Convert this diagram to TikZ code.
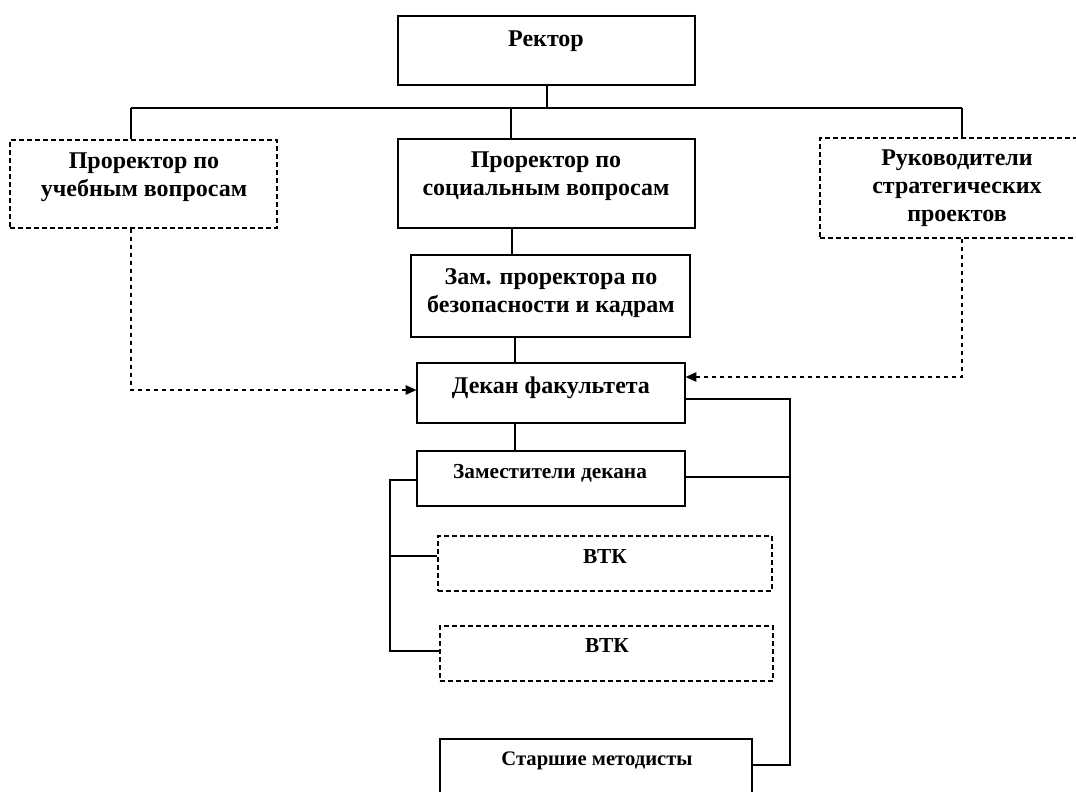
\documentclass[tikz,border=0pt]{standalone}
\usepackage{fontspec}
\setmainfont{Liberation Serif}
\usetikzlibrary{fit,arrows.meta}
\tikzset{
  box/.style={draw, line width=0.9pt, inner sep=0pt, rectangle},
  dbox/.style={box, dash pattern=on 3.5pt off 2.5pt},
  txt/.style={font=\bfseries\fontsize{18}{21}\selectfont, align=center, inner sep=0pt},
  stxt/.style={font=\bfseries\fontsize{15.5}{18}\selectfont, align=center, inner sep=0pt},
  conn/.style={line width=0.9pt},
  dconn/.style={line width=0.9pt, dash pattern=on 3.5pt off 2.5pt, -{Triangle[length=8pt,width=7pt]}},
}
\begin{document}
\begin{tikzpicture}[x=0.75pt,y=-0.75pt]
\useasboundingbox (0,0) rectangle (1076,792);
% boxes
\node[box, fit={(398,16) (695,85)}] (rector) {};
\node[dbox, fit={(10,140) (277,228)}] (prU) {};
\node[box, fit={(398,139) (695,228)}] (prS) {};
\node[dbox, fit={(820,138) (1095,238)}] (ruk) {};
\node[box, fit={(411,255) (690,337)}] (zam) {};
\node[box, fit={(417,363) (685,423)}] (dekan) {};
\node[box, fit={(417,451) (685,506)}] (zamdek) {};
\node[dbox, fit={(438,536) (772,591)}] (vtk1) {};
\node[dbox, fit={(440,626) (773,681)}] (vtk2) {};
\node[box, fit={(440,739) (752,810)}] (starsh) {};
% texts
\node[txt] (rector-t) at (546,41) {Ректор};
\node[txt] (prU-t) at (144,177) {Проректор по\\учебным вопросам};
\node[txt] (prS-t) at (546,176) {Проректор по\\социальным вопросам};
\node[txt] (ruk-t) at (957,188) {Руководители\\стратегических\\проектов};
\node[txt] (zam-t) at (551,293) {Зам. проректора по\\безопасности и кадрам};
\node[txt] (dekan-t) at (551,388) {Декан факультета};
\node[stxt, font=\bfseries\fontsize{16}{19}\selectfont] (zamdek-t) at (550,473) {Заместители декана};
\node[stxt, font=\bfseries\fontsize{16}{19}\selectfont] (vtk1-t) at (605,557) {ВТК};
\node[stxt, font=\bfseries\fontsize{16}{19}\selectfont] (vtk2-t) at (607,646) {ВТК};
\node[stxt] (starsh-t) at (597,761) {Старшие методисты};
% coordinates
\coordinate (busL) at (131,108);
\coordinate (busR) at (962,108);
\coordinate (busM) at (511,108);
\coordinate (busT) at (547,108);
\coordinate (leftD) at (131,390);
\coordinate (rightD) at (962,377);
\coordinate (rx) at (790,399);
\coordinate (lx) at (390,480);
% connectors
\draw[conn] (busT |- rector.south) -- (busT);
\draw[conn] (busL) -- (busR);
\draw[conn] (busL) -- (busL |- prU.north);
\draw[conn] (busM) -- (busM |- prS.north);
\draw[conn] (busR) -- (busR |- ruk.north);
\draw[conn] (prS.south -| 512,0) -- (zam.north -| 512,0);
\draw[conn] (zam.south -| 515,0) -- (dekan.north -| 515,0);
\draw[conn] (dekan.south -| 515,0) -- (zamdek.north -| 515,0);
\draw[dconn] (leftD |- prU.south) -- (leftD) -- (leftD -| dekan.west);
\draw[dconn] (rightD |- ruk.south) -- (rightD) -- (rightD -| dekan.east);
\draw[conn] (rx -| dekan.east) -- (rx) -- (rx |- 0,765) -- (starsh.east |- 0,765);
\draw[conn] (zamdek.east |- 0,477) -- (rx |- 0,477);
\draw[conn] (lx -| zamdek.west) -- (lx) -- (lx |- 0,651) -- (vtk2.west |- 0,651);
\draw[conn] (lx |- 0,556) -- (vtk1.west |- 0,556);
\end{tikzpicture}
\end{document}
